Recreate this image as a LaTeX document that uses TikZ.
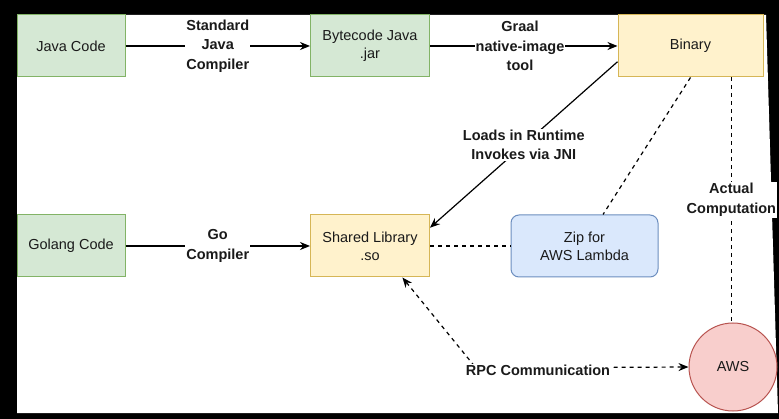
\documentclass[tikz,border=0pt]{standalone}
\usepackage{fontspec}
\setmainfont{Liberation Sans}
\usetikzlibrary{arrows.meta,calc}
\definecolor{gfill}{HTML}{D5E8D4}\definecolor{gdraw}{HTML}{82B366}
\definecolor{yfill}{HTML}{FFF2CC}\definecolor{ydraw}{HTML}{D6B656}
\definecolor{bfill}{HTML}{DAE8FC}\definecolor{bdraw}{HTML}{6C8EBF}
\definecolor{rfill}{HTML}{F8CECC}\definecolor{rdraw}{HTML}{B85450}
\definecolor{txt}{HTML}{1A1A1A}
\begin{document}
\begin{tikzpicture}[x=1pt,y=-1pt,
  font=\fontsize{14.5}{18}\selectfont, text=txt,
  box/.style={draw, line width=1pt, align=center, inner sep=0pt, minimum height=62pt},
  greenbox/.style={box, fill=gfill, draw=gdraw},
  yellowbox/.style={box, fill=yfill, draw=ydraw},
  bluebox/.style={box, fill=bfill, draw=bdraw, rounded corners=8pt},
  redcirc/.style={circle, draw=rdraw, fill=rfill, line width=1pt, minimum size=88pt, inner sep=0pt},
  lbl/.style={fill=white, inner sep=1pt, align=center, font=\bfseries\fontsize{14.5}{19.5}\selectfont},
  conn/.style={line width=1.2pt, draw=black},
  arr/.style={conn, -{Stealth[length=10pt,width=8pt]}},
  dconn/.style={conn, dash pattern=on 4pt off 4pt},
  darr/.style={dconn, -{Stealth[length=10pt,width=8pt]}},
  ddarr/.style={dconn, {Stealth[length=10pt,width=8pt]}-{Stealth[length=10pt,width=8pt]}}
]
% frame
\fill[black] (0,0) rectangle (779,419);
\fill[white] (17,15) -- (766,15) -- (778,413) -- (17,413) -- cycle;
\useasboundingbox (0,0) rectangle (779,419);

% nodes
\node[greenbox, minimum width=108pt] (java) at (71,46) {Java Code};
\node[greenbox, minimum width=119pt] (byte) at (370,46) {Bytecode Java\\.jar};
\node[yellowbox, minimum width=145pt] (bin) at (690.5,46) {Binary};
\node[greenbox, minimum width=108pt] (go) at (71,246) {Golang Code};
\node[yellowbox, minimum width=119pt] (sl) at (370,246) {Shared Library\\.so};
\node[bluebox, minimum width=147pt] (zip) at (584.5,246) {Zip for\\AWS Lambda};
\node[redcirc] (aws) at (733,367) {AWS};

% edges
\draw[arr] (java) -- (byte) node[lbl, midway] (l1) {Standard\\Java\\Compiler};
\draw[arr] (byte) -- (bin) node[lbl, pos=0.48] (l2) {Graal\\native-image\\tool};
\draw[arr] (go) -- (sl) node[lbl, midway] (l3) {Go\\Compiler};
\draw[arr] ($(bin.west)!0.5!(bin.south west)$) -- ($(sl.north east)!0.42!(sl.east)$)
   node[lbl, midway] (l4) {Loads in Runtime\\Invokes via JNI};
\draw[dconn] (sl) -- (zip);
\draw[dconn] (bin.south) -- ($(zip.north)!0.25!(zip.north east)$);
\coordinate (vt) at ($(bin.south)!0.56!(bin.south east)$);
\draw[dconn] (vt) -- (vt |- aws.north) node[lbl, pos=0.5] (l5) {Actual\\Computation};
\coordinate (bend) at (476,368);
\draw[ddarr] ($(sl.south)!0.54!(sl.south east)$) -- (bend) -- (aws.west);
\node[lbl] (l6) at (538,370) {RPC Communication};
\end{tikzpicture}
\end{document}
